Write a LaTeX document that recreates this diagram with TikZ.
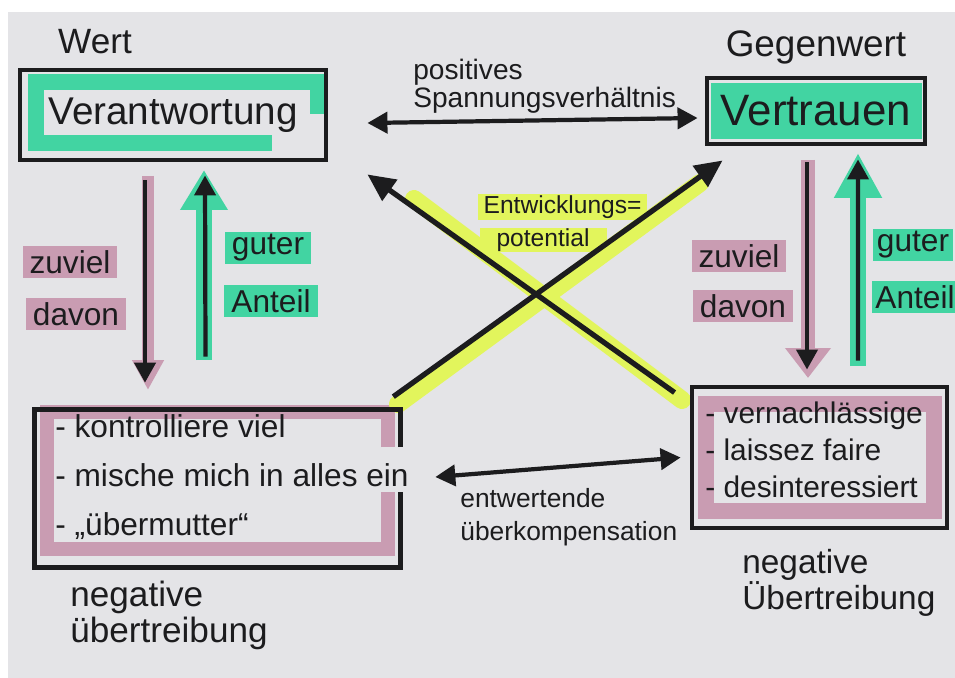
\documentclass[tikz,border=0pt]{standalone}
\usepackage{fontspec}
\setmainfont{Liberation Sans}
\usetikzlibrary{arrows.meta}
\definecolor{paper}{RGB}{228,228,231}
\definecolor{ink}{RGB}{28,28,30}
\definecolor{markgreen}{RGB}{66,212,162}
\definecolor{markpink}{RGB}{201,156,178}
\definecolor{markyellow}{RGB}{226,245,92}
\newcommand{\handsize}[2]{\fontsize{#1}{#2}\selectfont}

\begin{document}
\begin{tikzpicture}[x=0.02cm, y=-0.02cm,
  >={Triangle[length=0.4cm,width=0.42cm]},
  inkbox/.style={draw=ink, line width=2.8pt, text=ink, inner sep=0pt},
  inkline/.style={draw=ink, line width=2.4pt},
  greenband/.style={draw=markgreen, line width=0.32cm},
  pinkband/.style={draw=markpink, line width=0.28cm},
  yellowband/.style={draw=markyellow, line width=0.36cm, line cap=round},
  handtext/.style={text=ink, inner sep=0pt, align=left},
  marktag/.style={text=ink, inner xsep=4pt, inner ysep=0pt, minimum height=0.66cm, font=\handsize{18}{20}}
]
\useasboundingbox (0,0) rectangle (955,678);
\fill[white] (0,0) rectangle (955,678);
\fill[paper] (8,12) rectangle (955,678);

% highlighter under the boxes
\draw[greenband] (318,114) -- (318,82) -- (36,82) -- (36,143) -- (272,143);
\fill[markgreen] (711,83) rectangle (922,139);
\draw[pinkband] (388,447) -- (388,412) -- (47,412) -- (47,549) -- (388,549) -- (388,492);
\draw[pinkband, line width=0.32cm] (706,404) rectangle (934,511);

% highlighter under the arrows
\draw[pinkband, line width=0.24cm, -{Triangle[length=0.6cm,width=0.6cm]}] (148,176) -- (148,390);
\draw[greenband, -{Triangle[length=0.8cm,width=0.9cm]}] (204,360) -- (204,170);
\draw[pinkband, -{Triangle[length=0.6cm,width=0.88cm]}] (808,160) -- (808,378);
\draw[greenband, -{Triangle[length=0.9cm,width=0.9cm]}] (858,366) -- (858,153);
\draw[yellowband] (398,404) -- (700,183);
\draw[yellowband] (682,400) -- (414,199);

% boxes
\node[inkbox, minimum width=6.12cm, minimum height=1.8cm, font=\handsize{22}{24}] (verant) at (173,115) {Verantwortung};
\node[inkbox, minimum width=4.36cm, minimum height=1.32cm, font=\handsize{25}{27}] (vertr) at (816,111) {Vertrauen};
\node[minimum width=7.3cm, minimum height=3.14cm, inner sep=0pt] (kontroll) at (217.5,488.5) {};
\draw[ink, line width=2.8pt] ([shift={(0,-41.5)}]kontroll.east) -- (kontroll.north east) -- (kontroll.north west)
  -- (kontroll.south west) -- (kontroll.south east) -- ([shift={(0,3.5)}]kontroll.east);
\node[inkbox, minimum width=5.1cm, minimum height=2.82cm] (vernachl) at (819.5,457.5) {};

% texts in the lower boxes
\node[handtext, anchor=west, font=\handsize{18}{28}] (kontrolltxt) at (55,477)
  {- kontrolliere viel\\- mische mich in alles ein\\- „übermutter“};
\node[handtext, anchor=west, font=\handsize{17}{21}] (vernachltxt) at (705,450)
  {- vernachlässige\\- laissez faire\\- desinteressiert};

% free labels
\node[handtext, font=\handsize{20}{22}] (wert) at (95,42) {Wert};
\node[handtext, font=\handsize{21}{23}] (gegenwert) at (816,47) {Gegenwert};
\node[handtext, anchor=west, font=\handsize{16}{16}] (spannung) at (413,86) {positives\\Spannungsverhältnis};
\node[handtext, anchor=west, font=\handsize{15}{19}] (entwertend) at (460,517) {entwertende\\überkompensation};
\node[handtext, anchor=west, font=\handsize{20}{20.5}] (negL) at (70,615) {negative\\übertreibung};
\node[handtext, anchor=west, font=\handsize{19}{17.6}] (negR) at (742,583) {negative\\Übertreibung};

% highlighted labels
\node[marktag, fill=markpink] (zuvielL) at (70,262) {zuviel};
\node[marktag, fill=markpink] (davonL) at (76,314) {davon};
\node[marktag, fill=markgreen] (guterL) at (268,248) {guter};
\node[marktag, fill=markgreen] (anteilL) at (271,301) {Anteil};
\node[marktag, fill=markpink] (zuvielR) at (739,256) {zuviel};
\node[marktag, fill=markpink] (davonR) at (743,306) {davon};
\node[marktag, fill=markgreen, inner xsep=2pt] (guterR) at (913,245) {guter};
\node[marktag, fill=markgreen, inner xsep=2pt] (anteilR) at (915,297) {Anteil};
\node[marktag, fill=markyellow, font=\handsize{14}{16}, minimum height=0.54cm, inner xsep=3pt, anchor=west] (entw) at (478,207) {Entwicklungs=};
\node[marktag, fill=markyellow, font=\handsize{14}{16}, minimum height=0.5cm, minimum width=2.54cm] (potential) at (543,240) {potential};

% connectors
\draw[inkline, <->] ([shift={(39,8)}]verant.east) -- ([shift={(-7,7)}]vertr.west);
\draw[inkline, ->] ([shift={(-28,18)}]verant.south) -- ([shift={(-72.5,-27)}]kontroll.north);
\draw[inkline, ->] ([shift={(-12,-53)}]kontroll.north) -- ([shift={(32,13)}]verant.south);
\draw[inkline, ->] ([shift={(-9,16)}]vertr.south) -- ([shift={(-12.5,-15)}]vernachl.north);
\draw[inkline, ->] ([shift={(38.5,-24)}]vernachl.north) -- ([shift={(42,13)}]vertr.south);
\draw[inkline, <->] ([shift={(35,-11.5)}]kontroll.east) -- ([shift={(-9,0)}]vernachl.west);
\draw[inkline, line width=3pt, -{Triangle[length=0.55cm,width=0.5cm]}] ([shift={(-7,-13)}]kontroll.north east) -- ([shift={(18,14)}]vertr.south west);
\draw[inkline, line width=3pt, -{Triangle[length=0.55cm,width=0.5cm]}] ([shift={(-15,8)}]vernachl.north west) -- ([shift={(39,12)}]verant.south east);
\end{tikzpicture}
\end{document}
